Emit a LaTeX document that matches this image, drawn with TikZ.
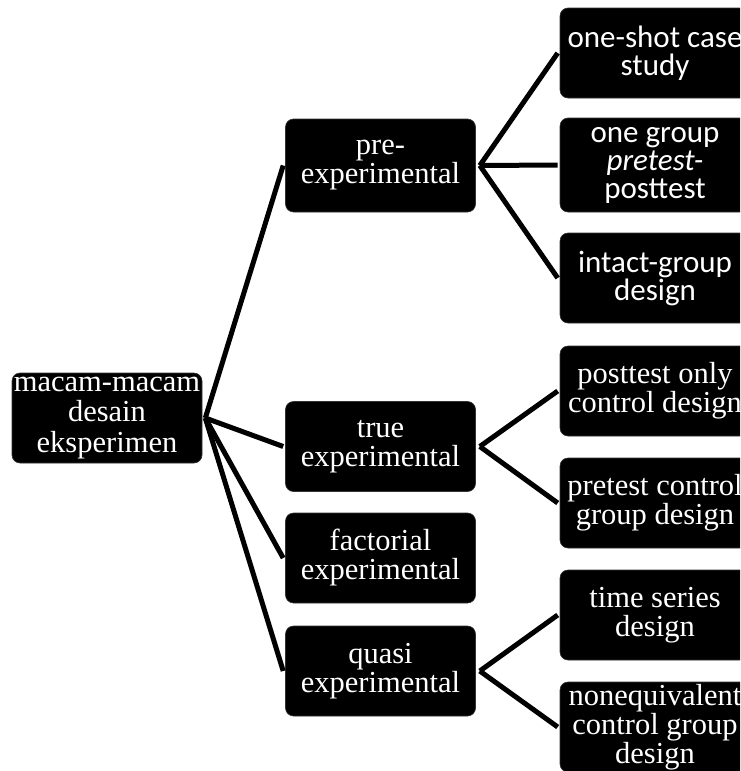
\documentclass[tikz,border=0pt]{standalone}
\usepackage{fontspec}
\setmainfont{Liberation Serif}
\newfontfamily\calib{Carlito}
\begin{document}
\begin{tikzpicture}[x=1pt,y=-1pt,
  box/.style={fill=black, draw=black!80, line width=0.6pt, rounded corners=8pt,
    minimum width=190pt, minimum height=90pt, inner sep=0pt, text=white,
    align=center, font=\fontsize{30.5}{29}\selectfont},
  sbox/.style={box, font=\calib\fontsize{31}{28}\selectfont},
  link/.style={line width=5pt, black}]
\useasboundingbox (0,0) rectangle (740,771);
\clip (0,0) rectangle (740,771);
\fill[white] (0,0) rectangle (740,771);
% root
\node[box, font=\fontsize{30.5}{30.5}\selectfont] (root) at (107,418) {macam-macam\\desain\\eksperimen};
% level 2
\node[box, minimum height=93pt] (pre) at (380.5,165.5) {pre-\\experimental};
\node[box] (true) at (380.5,446.5) {true\\experimental};
\node[box] (fact) at (380.5,558) {factorial\\experimental};
\node[box] (quasi) at (380.5,671) {quasi\\experimental};
% level 3
\node[sbox] (c1) at (655,53) {one-shot case\\study};
\node[sbox, minimum height=94pt] (c2) at (655,165) {one group\\\textit{pretest-}\\posttest};
\node[sbox] (c3) at (655,278) {intact-group\\design};
\node[box] (c4) at (655,391) {posttest only\\control design};
\node[box] (c5) at (655,503) {pretest control\\group design};
\node[box] (c6) at (655,615) {time series\\design};
\node[box] (c7) at (655,727) {nonequivalent\\control group\\design};
% connectors
\coordinate (r) at ([xshift=3pt]root.east);
\foreach \t in {pre,true,fact,quasi} \draw[link] (r) -- ([xshift=-2pt]\t.west);
\coordinate (p) at ([xshift=4pt]pre.east);
\foreach \t in {c1,c2,c3} \draw[link] (p) -- ([xshift=-2pt]\t.west);
\coordinate (q) at ([xshift=4pt]true.east);
\foreach \t in {c4,c5} \draw[link] (q) -- ([xshift=-2pt]\t.west);
\coordinate (s) at ([xshift=4pt]quasi.east);
\foreach \t in {c6,c7} \draw[link] (s) -- ([xshift=-2pt]\t.west);
\end{tikzpicture}
\end{document}
